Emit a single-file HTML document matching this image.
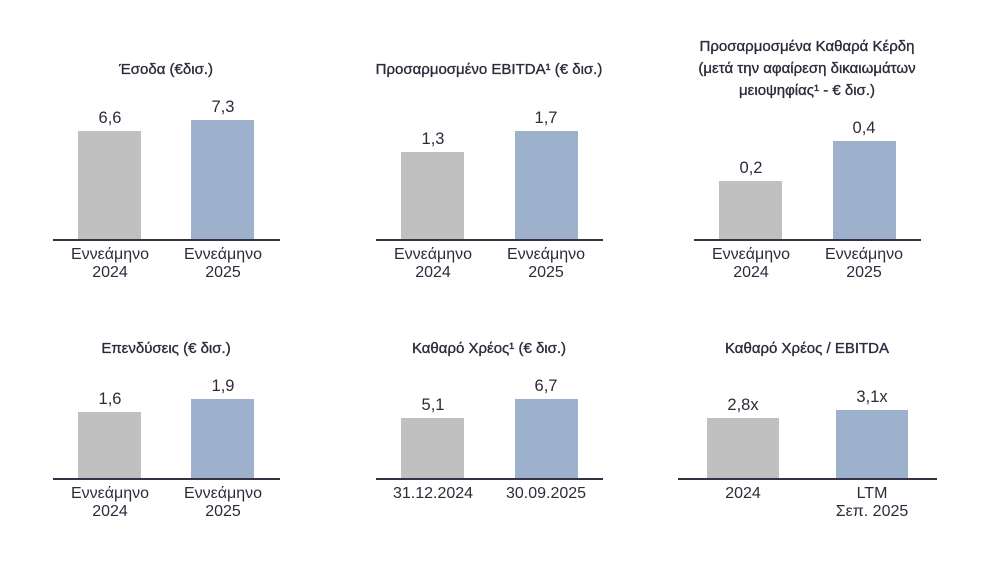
<!DOCTYPE html>
<html><head><meta charset="utf-8"><style>
body{margin:0;width:986px;height:588px;background:#fff;position:relative;overflow:hidden;font-family:"Liberation Sans","DejaVu Sans",sans-serif;color:#2b2b3b}
.b{position:absolute}
.g{background:#c0c0c0}.bl{background:#9db0cc}
.ax{position:absolute;height:1.5px;background:#333344}
.t{position:absolute;text-align:center;font-size:16px;line-height:18px;white-space:nowrap;transform:translateX(-50%)}
.v{font-size:16.5px}
.h{font-size:15px;-webkit-text-stroke:0.35px #2b2b3b}
</style></head><body>
<!-- chart 1 -->
<div class="t h" style="left:166px;top:61px">Έσοδα (€δισ.)</div>
<div class="b g" style="left:78px;top:131px;width:63px;height:108px"></div>
<div class="b bl" style="left:191px;top:120px;width:63px;height:119px"></div>
<div class="ax" style="left:53px;width:227px;top:239px"></div>
<div class="t v" style="left:110px;top:109px">6,6</div>
<div class="t v" style="left:223px;top:98px">7,3</div>
<div class="t" style="left:110px;top:246px">Εννεάμηνο<br>2024</div>
<div class="t" style="left:223px;top:246px">Εννεάμηνο<br>2025</div>
<!-- chart 2 -->
<div class="t h" style="left:489px;top:61px">Προσαρμοσμένο EBITDA¹ (€ δισ.)</div>
<div class="b g" style="left:401px;top:152px;width:63px;height:87px"></div>
<div class="b bl" style="left:515px;top:131px;width:63px;height:108px"></div>
<div class="ax" style="left:376px;width:227px;top:239px"></div>
<div class="t v" style="left:433px;top:130px">1,3</div>
<div class="t v" style="left:546px;top:109px">1,7</div>
<div class="t" style="left:433px;top:246px">Εννεάμηνο<br>2024</div>
<div class="t" style="left:546px;top:246px">Εννεάμηνο<br>2025</div>
<!-- chart 3 -->
<div class="t h" style="left:807px;top:36px;line-height:22px">Προσαρμοσμένα Καθαρά Κέρδη<br>(μετά την αφαίρεση δικαιωμάτων<br>μειοψηφίας¹ - € δισ.)</div>
<div class="b g" style="left:719px;top:181px;width:63px;height:58px"></div>
<div class="b bl" style="left:833px;top:141px;width:63px;height:98px"></div>
<div class="ax" style="left:694px;width:227px;top:239px"></div>
<div class="t v" style="left:751px;top:159px">0,2</div>
<div class="t v" style="left:864px;top:119px">0,4</div>
<div class="t" style="left:751px;top:246px">Εννεάμηνο<br>2024</div>
<div class="t" style="left:864px;top:246px">Εννεάμηνο<br>2025</div>
<!-- chart 4 -->
<div class="t h" style="left:166px;top:340px">Επενδύσεις (€ δισ.)</div>
<div class="b g" style="left:78px;top:412px;width:63px;height:66px"></div>
<div class="b bl" style="left:191px;top:399px;width:63px;height:79px"></div>
<div class="ax" style="left:53px;width:227px;top:478px"></div>
<div class="t v" style="left:110px;top:390px">1,6</div>
<div class="t v" style="left:223px;top:377px">1,9</div>
<div class="t" style="left:110px;top:485px">Εννεάμηνο<br>2024</div>
<div class="t" style="left:223px;top:485px">Εννεάμηνο<br>2025</div>
<!-- chart 5 -->
<div class="t h" style="left:489px;top:340px">Καθαρό Χρέος¹ (€ δισ.)</div>
<div class="b g" style="left:401px;top:418px;width:63px;height:60px"></div>
<div class="b bl" style="left:515px;top:399px;width:63px;height:79px"></div>
<div class="ax" style="left:376px;width:227px;top:478px"></div>
<div class="t v" style="left:433px;top:396px">5,1</div>
<div class="t v" style="left:546px;top:377px">6,7</div>
<div class="t" style="left:433px;top:485px">31.12.2024</div>
<div class="t" style="left:546px;top:485px">30.09.2025</div>
<!-- chart 6 -->
<div class="t h" style="left:807px;top:340px">Καθαρό Χρέος / EBITDA</div>
<div class="b g" style="left:707px;top:418px;width:72px;height:60px"></div>
<div class="b bl" style="left:836px;top:410px;width:72px;height:68px"></div>
<div class="ax" style="left:678px;width:259px;top:478px"></div>
<div class="t v" style="left:743px;top:396px">2,8x</div>
<div class="t v" style="left:872px;top:388px">3,1x</div>
<div class="t" style="left:743px;top:485px">2024</div>
<div class="t" style="left:872px;top:485px">LTM<br>Σεπ. 2025</div>
</body></html>
